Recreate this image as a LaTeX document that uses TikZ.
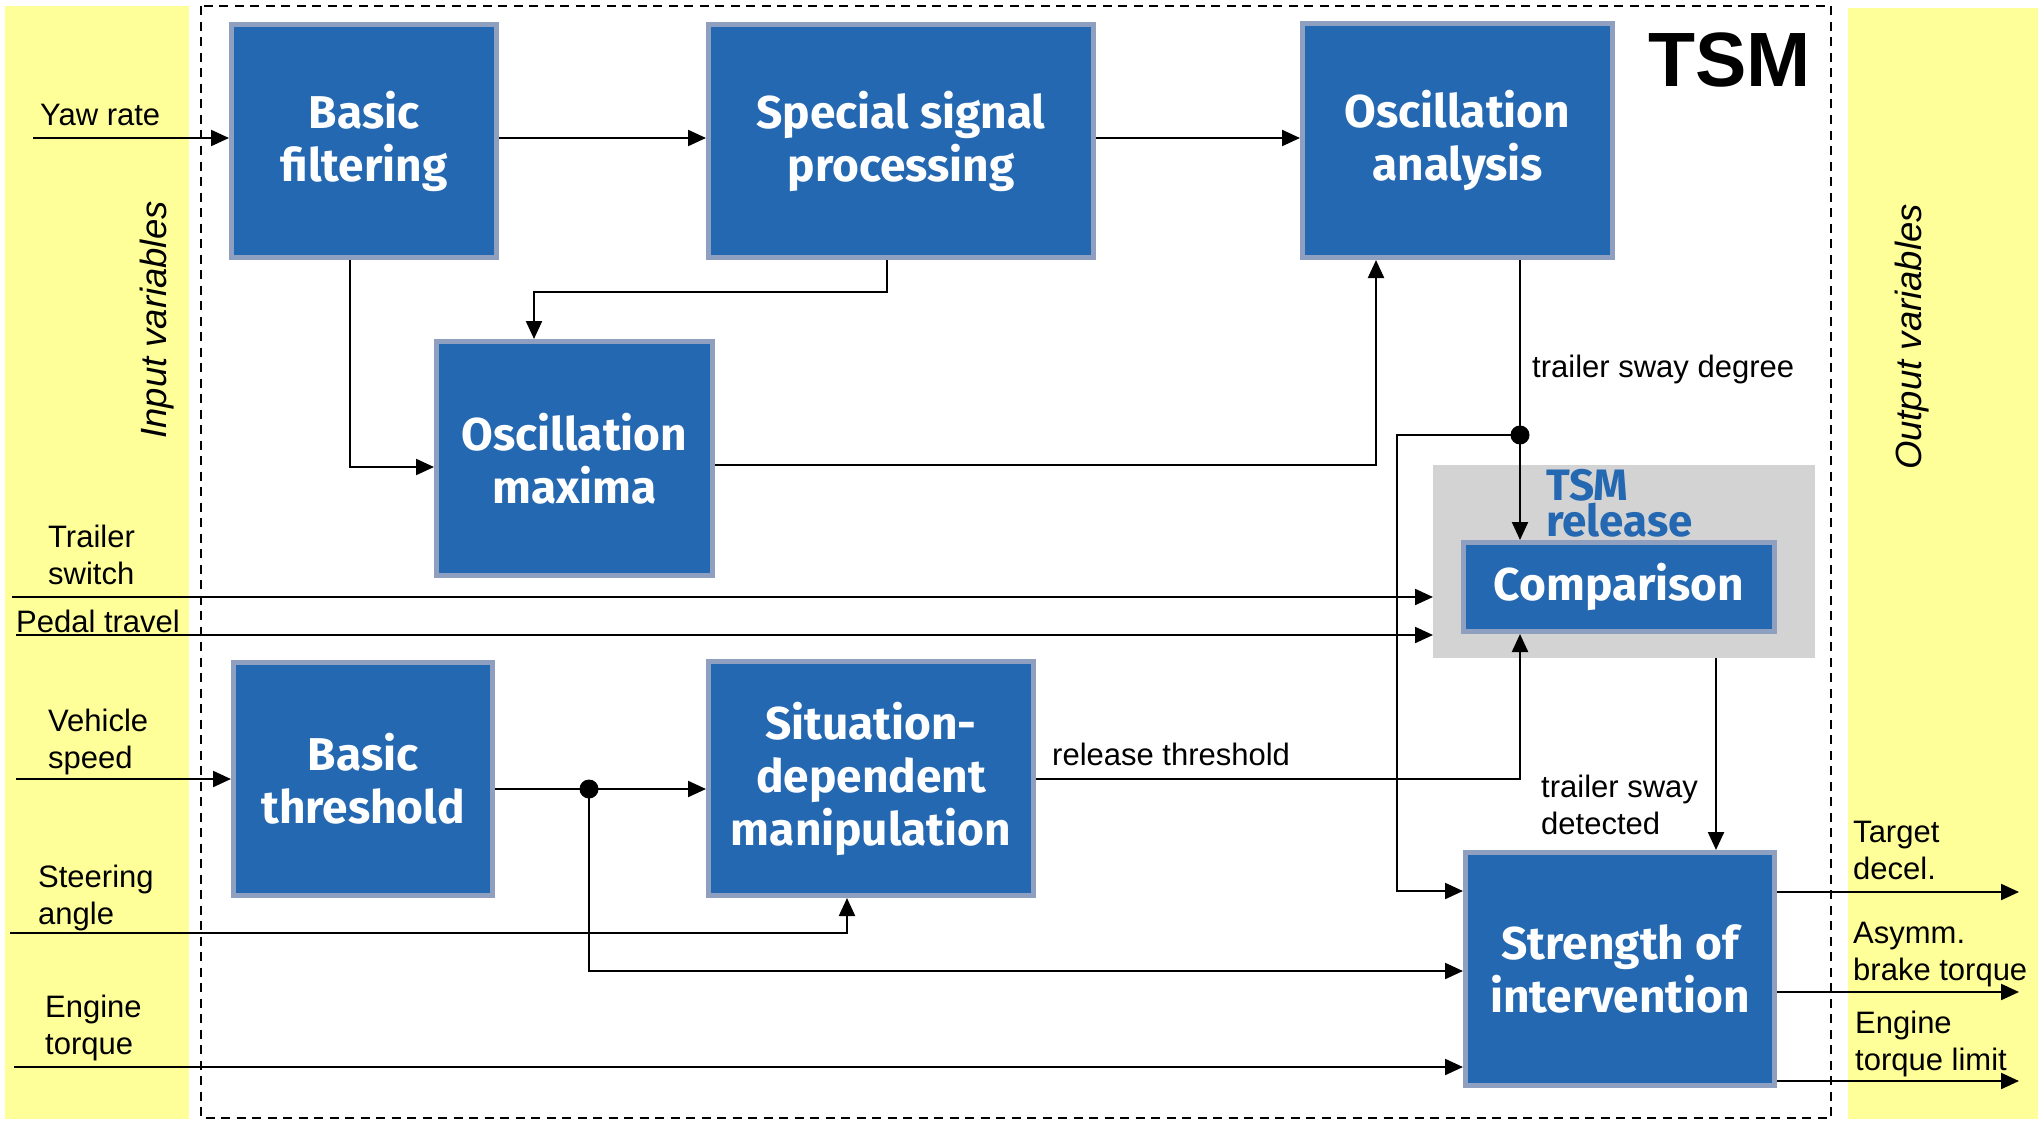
\documentclass[tikz,border=0pt]{standalone}
\usepackage{fontspec}
\setmainfont{Liberation Sans}
\newfontfamily\boxfont{Fira Sans}
\usetikzlibrary{arrows.meta}
\definecolor{boxblue}{HTML}{2468B2}
\definecolor{boxedge}{HTML}{8E9FBF}
\definecolor{relgray}{HTML}{D3D3D3}
\definecolor{bandyellow}{HTML}{FFFF99}
\tikzset{
  blk/.style={draw=boxedge, line width=5pt, fill=boxblue, text=white,
    font=\boxfont\bfseries\fontsize{46}{53}\selectfont, align=center,
    inner sep=0pt, outer sep=2.5pt},
  % multi-line labels are anchored at the baseline of their last line
  lbl/.style={font=\fontsize{31}{37}\selectfont, align=left, inner sep=0pt, anchor=base west},
  sidelbl/.style={font=\itshape\fontsize{36.5}{40}\selectfont, inner sep=0pt, rotate=90},
  wire/.style={line width=2.2pt},
  arr/.style={wire, -{Triangle[length=18pt,width=16pt]}},
  dot/.style={circle, fill=black, inner sep=0pt, minimum size=19pt},
}
\begin{document}
\begin{tikzpicture}[x=1pt,y=-1pt]
\useasboundingbox (0,0) rectangle (2042,1121);
\fill[white] (0,0) rectangle (2042,1121);

% input / output bands
\fill[bandyellow] (5,6) rectangle (189,1119);
\fill[bandyellow] (1848,8) rectangle (2038,1119);
\node[sidelbl] (inlbl) at (157,320) {Input variables};
\node[sidelbl] (outlbl) at (1912,337) {Output variables};

% TSM frame
\draw[line width=2pt, dash pattern=on 9pt off 6.5pt] (201,6.5) rectangle (1831,1118);
\node[font=\bfseries\fontsize{77}{80}\selectfont, inner sep=0pt, anchor=base east] (tsm) at (1811,87) {TSM};

% TSM release group
\node[fill=relgray, minimum width=382pt, minimum height=193pt, inner sep=0pt, outer sep=0pt] (rel) at (1624,561.5) {};
\node[font=\boxfont\bfseries\fontsize{44}{34}\selectfont, text=boxblue, align=left, inner sep=0pt, anchor=base west] (rellbl) at (1546,536) {TSM\\release};

% function blocks
\node[blk, minimum width=265pt, minimum height=233pt] (bf)  at (364,141)   {Basic\\filtering};
\node[blk, minimum width=385pt, minimum height=233pt] (ssp) at (901,141)   {Special signal\\processing};
\node[blk, minimum width=310pt, minimum height=234pt] (oa)  at (1457.5,140.5) {Oscillation\\analysis};
\node[blk, minimum width=276pt, minimum height=234pt] (om)  at (574.5,458.5) {Oscillation\\maxima};
\node[blk, minimum width=311pt, minimum height=89pt]  (cmp) at (1619,587)   {Comparison};
\node[blk, minimum width=259pt, minimum height=233pt] (bt)  at (363,779)   {Basic\\threshold};
\node[blk, minimum width=325pt, minimum height=234pt] (sdm) at (871,778.5) {Situation-\\dependent\\manipulation};
\node[blk, minimum width=309pt, minimum height=233pt] (str) at (1620,969)  {Strength of\\intervention};

% input labels
\node[lbl] (l1) at (40,126)  {Yaw rate};
\node[lbl] (l2) at (48,584)  {Trailer\\switch};
\node[lbl] (l3) at (16,632)  {Pedal travel};
\node[lbl] (l4) at (48,768)  {Vehicle\\speed};
\node[lbl] (l5) at (38,924)  {Steering\\angle};
\node[lbl] (l6) at (45,1054) {Engine\\torque};

% signal labels
\node[lbl] (s1) at (1532,377) {trailer sway degree};
\node[lbl] (s2) at (1052,765) {release threshold};
\node[lbl] (s3) at (1541,834) {trailer sway\\detected};

% output labels
\node[lbl] (o1l) at (1853,879)  {Target\\decel.};
\node[lbl] (o2l) at (1853,980)  {Asymm.\\brake torque};
\node[lbl] (o3l) at (1855,1070) {Engine\\torque limit};

% yaw rate path
\coordinate (yawin) at (33,138);
\draw[arr] (yawin) -- (yawin -| bf.west);
\draw[arr] (bf.east |- yawin) -- (ssp.west |- yawin);
\draw[arr] (ssp.east |- yawin) -- (oa.west |- yawin);

% special signal processing -> oscillation maxima
\coordinate (k1) at (887,292);
\coordinate (k2) at (534,292);
\draw[arr] (k1 |- ssp.south) -- (k1) -- (k2) -- (k2 |- om.north);

% basic filtering -> oscillation maxima
\coordinate (k3) at (350,467);
\draw[arr] (k3 |- bf.south) -- (k3) -- (k3 -| om.west);

% oscillation maxima -> oscillation analysis
\coordinate (k4) at (1376,465);
\draw[arr] (k4 -| om.east) -- (k4) -- (k4 |- oa.south);

% trailer sway degree
\node[dot] (sd) at (1520,435) {};
\draw[arr] (sd |- oa.south) -- (sd.center) -- (sd |- cmp.north);
\coordinate (k5) at (1397,435);
\coordinate (k6) at (1397,891);
\draw[arr] (sd.center) -- (k5) -- (k6) -- (k6 -| str.west);

% trailer switch, pedal travel
\coordinate (tsin) at (12,597);
\draw[arr] (tsin) -- (tsin -| rel.west);
\coordinate (ptin) at (16,635);
\draw[arr] (ptin) -- (ptin -| rel.west);

% vehicle speed
\coordinate (vsin) at (16,779);
\draw[arr] (vsin) -- (vsin -| bt.west);

% basic threshold -> situation-dependent manipulation
\node[dot] (td) at (589,789) {};
\draw[arr] (td -| bt.east) -- (td -| sdm.west);
\coordinate (k8) at (589,971);
\draw[arr] (td.center) -- (k8) -- (k8 -| str.west);

% steering angle
\coordinate (sain) at (10,933);
\coordinate (k9) at (847,933);
\draw[arr] (sain) -- (k9) -- (k9 |- sdm.south);

% engine torque
\coordinate (etin) at (14,1067);
\draw[arr] (etin) -- (etin -| str.west);

% release threshold
\coordinate (k10) at (1520,779);
\draw[arr] (k10 -| sdm.east) -- (k10) -- (k10 |- cmp.south);

% trailer sway detected
\coordinate (k11) at (1716,700);
\draw[arr] (k11 |- rel.south) -- (k11 |- str.north);

% outputs
\coordinate (out1) at (2019,892);
\coordinate (out2) at (2019,992);
\coordinate (out3) at (2019,1081);
\draw[arr] (out1 -| str.east) -- (out1);
\draw[arr] (out2 -| str.east) -- (out2);
\draw[arr] (out3 -| str.east) -- (out3);
\end{tikzpicture}
\end{document}
